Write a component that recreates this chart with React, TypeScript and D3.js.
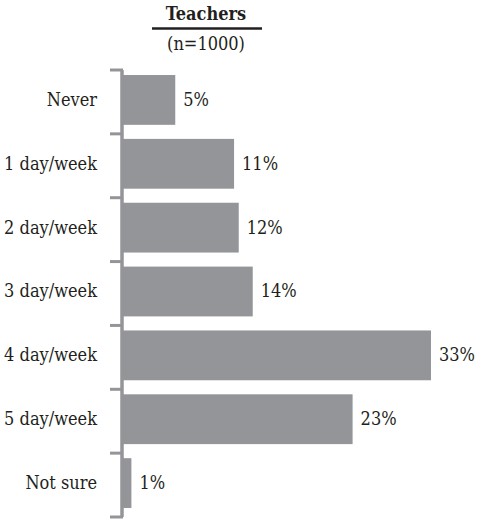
import * as d3 from 'd3';

const categories = ['Never', '1 day/week', '2 day/week', '3 day/week', '4 day/week', '5 day/week', 'Not sure'];
// bar lengths as drawn (the printed labels are rounded)
const values = [5.6, 11.9, 12.4, 13.9, 33, 24.6, 0.9];
const labels = ['5%', '11%', '12%', '14%', '33%', '23%', '1%'];

const title = 'Teachers';
const subtitle = '(n=1000)';

export default function App() {
  const width = 478, height = 522;
  const font = "'DejaVu Serif Condensed', 'DejaVu Serif', serif";

  const x = d3.scaleLinear().domain([0, 33]).range([123, 431]);
  const y = d3.scaleBand().domain(categories).range([70, 517]).paddingInner(0.22).paddingOuter(0.11);
  const step = y.step();
  const tickYs = d3.range(categories.length + 1).map(i => 70 + i * step);

  const grey = '#939598';
  const ink = '#231f20';

  return (
    <svg width={width} height={height} style={{ position: 'absolute', left: 0, top: 0 }}>
      <rect width={width} height={height} fill="#fff" />
      <text x={206} y={20} textAnchor="middle" style={{ fontFamily: font }} fontWeight="bold" fontSize={18} fill={ink}>{title}</text>
      <line x1={152} x2={262} y1={28.5} y2={28.5} stroke={ink} strokeWidth={2.5} />
      <text x={206} y={50} textAnchor="middle" style={{ fontFamily: font }} fontSize={18} fill={ink}>{subtitle}</text>

      {categories.map((c, i) => {
        const top = (y(c) as number) - 2;
        const mid = top + y.bandwidth() / 2;
        return (
          <g key={c}>
            <rect x={x(0)} y={top} width={x(values[i]) - x(0)} height={y.bandwidth()} fill={grey} />
            <text x={97} y={mid} dy="0.33em" textAnchor="end" style={{ fontFamily: font }} fontSize={18} fill={ink}>{c}</text>
            <text x={x(values[i]) + 8} y={mid} dy="0.33em" style={{ fontFamily: font }} fontSize={18} fill={ink}>{labels[i]}</text>
          </g>
        );
      })}

      <line x1={122} x2={122} y1={tickYs[0]} y2={tickYs[tickYs.length - 1]} stroke={grey} strokeWidth={3.5} />
      {tickYs.map((t, i) => (
        <line key={i} x1={110} x2={123} y1={t} y2={t} stroke={grey} strokeWidth={3} />
      ))}
    </svg>
  );
}
